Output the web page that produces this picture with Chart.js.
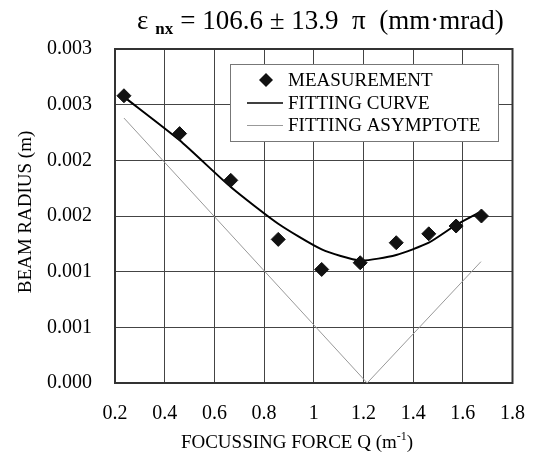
<!DOCTYPE html>
<html>
<head>
<meta charset="utf-8">
<script src="https://cdn.jsdelivr.net/npm/chart.js@4.4.1/dist/chart.umd.min.js"></script>
<style>
  html, body { margin: 0; padding: 0; background: #fff; }
  #wrap { width: 544px; height: 461px; }
</style>
</head>
<body>
<div id="wrap"><canvas id="beamChart" width="544" height="461"></canvas></div>
<script>
// Data
const measX = [0.236, 0.46, 0.666, 0.857, 1.032, 1.187, 1.332, 1.463, 1.573, 1.675];
const measY = [0.00258, 0.00224, 0.00182, 0.00129, 0.00102, 0.00108, 0.00126, 0.00134, 0.00141, 0.00150];

const fitX = [0.236, 0.46, 0.666, 0.857, 1.032, 1.187, 1.332, 1.463, 1.573, 1.665];
const fitY = [0.00257, 0.00218, 0.00176, 0.00143, 0.00120, 0.00110, 0.00115, 0.00126, 0.00142, 0.00153];

const asymX = [0.236, 1.215, 1.673];
const asymY = [0.00238, 0.0, 0.00109];

const xTickLabels = ['0.2', '0.4', '0.6', '0.8', '1', '1.2', '1.4', '1.6', '1.8'];
const yTickLabels = ['0.000', '0.001', '0.001', '0.002', '0.002', '0.003', '0.003'];

const seriesNames = ['MEASUREMENT', 'FITTING CURVE', 'FITTING ASYMPTOTE'];

const toPoints = (xs, ys) => xs.map((x, i) => ({ x: x, y: ys[i] }));

const SERIF = '"Liberation Serif", "Times New Roman", serif';

// titles, legend box and frame
const decorPlugin = {
    id: 'decor',
    beforeDatasetsDraw(chart) {
        const ctx = chart.ctx;
        const a = chart.chartArea;
        ctx.save();
        ctx.strokeStyle = '#333';
        ctx.lineWidth = 2;
        ctx.strokeRect(a.left, a.top, a.right - a.left, a.bottom - a.top);
        ctx.restore();
    },
    afterDraw(chart) {
        const ctx = chart.ctx;
        ctx.save();
        ctx.fillStyle = '#000';
        ctx.textBaseline = 'alphabetic';

        // top title with subscript
        let x = 137;
        const base = 29;
        ctx.font = '27px ' + SERIF;
        ctx.fillText('ε', x, base);
        x += ctx.measureText('ε').width + 7;
        ctx.font = 'bold 17px ' + SERIF;
        ctx.fillText('nx', x, base + 5);
        x += ctx.measureText('nx').width + 7;
        ctx.font = '27px ' + SERIF;
        ctx.fillText('= 106.6 ± 13.9  π  (mm·mrad)', x, base);

        // x axis title with superscript
        ctx.font = '19px ' + SERIF;
        const p1 = 'FOCUSSING FORCE Q (m', p2 = '-1', p3 = ')';
        const w1 = ctx.measureText(p1).width;
        ctx.font = '12px ' + SERIF;
        const w2 = ctx.measureText(p2).width;
        ctx.font = '19px ' + SERIF;
        const w3 = ctx.measureText(p3).width;
        let xs = 297 - (w1 + w2 + w3) / 2;
        ctx.fillText(p1, xs, 448);
        ctx.font = '12px ' + SERIF;
        ctx.fillText(p2, xs + w1, 440);
        ctx.font = '19px ' + SERIF;
        ctx.fillText(p3, xs + w1 + w2, 448);

        // y axis title
        ctx.save();
        ctx.translate(31, 212);
        ctx.rotate(-Math.PI / 2);
        ctx.textAlign = 'center';
        ctx.font = '19px ' + SERIF;
        ctx.fillText('BEAM RADIUS (m)', 0, 0);
        ctx.restore();

        // legend box
        ctx.fillStyle = '#fff';
        ctx.fillRect(230, 64, 268, 77);
        ctx.strokeStyle = '#777';
        ctx.lineWidth = 1;
        ctx.strokeRect(230.5, 64.5, 268, 77);
        const rows = [80, 103, 125];
        ctx.font = '19px ' + SERIF;
        ctx.fillStyle = '#000';
        seriesNames.forEach((name, i) => {
            ctx.fillText(name, 288, rows[i] + 6);
        });
        // marker
        ctx.fillStyle = '#111';
        ctx.beginPath();
        ctx.moveTo(266, rows[0] - 7);
        ctx.lineTo(273, rows[0]);
        ctx.lineTo(266, rows[0] + 7);
        ctx.lineTo(259, rows[0]);
        ctx.closePath();
        ctx.fill();
        ctx.strokeStyle = '#000';
        ctx.lineWidth = 1.5;
        ctx.beginPath();
        ctx.moveTo(247, rows[1]);
        ctx.lineTo(283, rows[1]);
        ctx.stroke();
        ctx.strokeStyle = '#999';
        ctx.lineWidth = 1;
        ctx.beginPath();
        ctx.moveTo(247, rows[2] + 0.5);
        ctx.lineTo(283, rows[2] + 0.5);
        ctx.stroke();
        ctx.restore();
    }
};

const ctx = document.getElementById('beamChart').getContext('2d');
new Chart(ctx, {
    type: 'scatter',
    data: {
        datasets: [{
            label: seriesNames[0],
            data: toPoints(measX, measY),
            pointStyle: 'rectRot',
            pointRadius: 7,
            backgroundColor: '#111',
            borderColor: '#111',
            borderWidth: 1,
            order: 0
        }, {
            label: seriesNames[1],
            data: toPoints(fitX, fitY),
            showLine: true,
            pointRadius: 0,
            borderColor: '#000',
            borderWidth: 2,
            tension: 0.2,
            order: 1
        }, {
            label: seriesNames[2],
            data: toPoints(asymX, asymY),
            showLine: true,
            pointRadius: 0,
            borderColor: '#999',
            borderWidth: 1,
            order: 2
        }]
    },
    options: {
        responsive: false,
        animation: false,
        layout: {
            autoPadding: false,
            padding: { top: 49, right: 27, left: 0, bottom: 0 }
        },
        scales: {
            x: {
                type: 'linear',
                min: 0.2,
                max: 1.8,
                afterFit: (scale) => { scale.height = 78; },
                afterBuildTicks: (scale) => {
                    scale.ticks = xTickLabels.map(t => ({ value: parseFloat(t) }));
                },
                ticks: {
                    padding: 19,
                    color: '#000',
                    font: { family: SERIF, size: 20 },
                    callback: (v, i) => xTickLabels[i]
                },
                grid: { color: '#444', lineWidth: 1, drawTicks: false },
                border: { display: false }
            },
            y: {
                min: 0,
                max: 0.003,
                afterFit: (scale) => { scale.width = 115; },
                afterBuildTicks: (scale) => {
                    scale.ticks = yTickLabels.map((t, i) => ({ value: i * 0.0005 }));
                },
                ticks: {
                    padding: 23,
                    color: '#000',
                    font: { family: SERIF, size: 20 },
                    callback: (v, i) => yTickLabels[i]
                },
                grid: { color: '#444', lineWidth: 1, drawTicks: false },
                border: { display: false }
            }
        },
        plugins: {
            legend: { display: false },
            tooltip: { enabled: false }
        }
    },
    plugins: [decorPlugin]
});
</script>
</body>
</html>
